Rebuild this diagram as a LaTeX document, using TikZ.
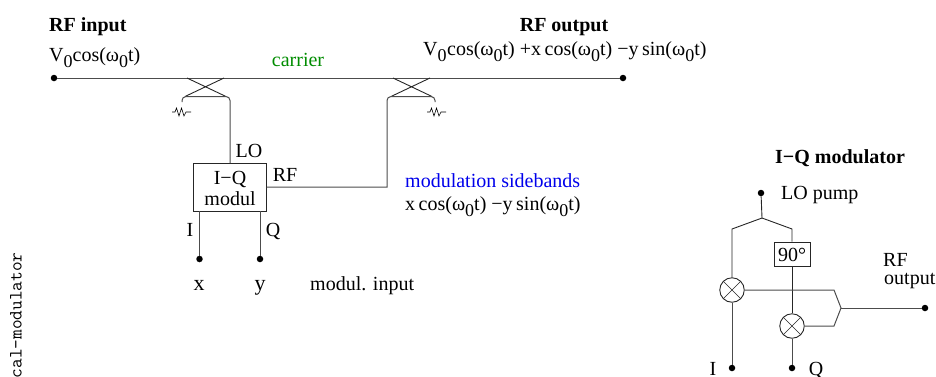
\documentclass[tikz,border=0pt]{standalone}
\usepackage{fontspec}
\setmainfont{Liberation Serif}
\usetikzlibrary{shapes.geometric}
\definecolor{carriergreen}{RGB}{0,140,0}
\definecolor{sideblue}{RGB}{0,0,235}
\newcommand{\lowzero}{\raisebox{-0.32em}{\fontsize{18}{18}\selectfont 0}}
\newcommand{\ww}{ω\lowzero}
\tikzset{
  x=1pt,y=-1pt,
  wire/.style={draw=black!70,line width=1pt},
  thin wire/.style={draw=black!85,line width=0.9pt,line join=round},
  termdot/.style={circle,fill=black,inner sep=0pt,minimum size=6.5pt},
  lbl/.style={inner sep=0pt,anchor=base west,font=\fontsize{20}{24}\selectfont},
  lblc/.style={inner sep=0pt,anchor=base,font=\fontsize{20}{24}\selectfont},
  boldlbl/.style={lblc,font=\fontsize{20}{24}\selectfont\bfseries},
  mixer/.style={circle,draw=black!85,line width=0.9pt,minimum size=24.5pt,inner sep=0pt},
  blockbox/.style={draw=black!85,line width=0.9pt,inner sep=0pt},
}
\begin{document}
\begin{tikzpicture}
\useasboundingbox (0,0) rectangle (936,376);
% left: main path
\node[termdot] (in) at (54,78) {};
\node[termdot] (out) at (623,78) {};
\draw[wire] (in) -- (out);
% couplers
\coordinate (c1a) at (187,78); \coordinate (c1b) at (224,78);
\coordinate (c1c) at (185,96.5); \coordinate (c1d) at (226,96.5);
\coordinate (c2a) at (393,78); \coordinate (c2b) at (430,78);
\coordinate (c2c) at (391,96.5); \coordinate (c2d) at (432,96.5);
\draw[thin wire] (c1a) -- (c1d) (c1b) -- (c1c);
\draw[thin wire] (c2a) -- (c2d) (c2b) -- (c2c);
% box
\node[blockbox,minimum width=73pt,minimum height=48pt] (mod) at (230,187) {};
\node[lblc] (modA) at (230,184) {I−Q};
\node[lblc] (modB) at (230,205) {modul};
% through lines
\coordinate (lotop) at (230,163);
\coordinate (rfout) at (266.5,187);
\draw[wire,rounded corners=4pt] (182,102) -- (182,96.5) -- (230,96.5) -- (lotop);
\draw[wire] (rfout) -- (387,187) [rounded corners=4pt] -- (387,96.5) -- (435,96.5) -- (435,102);
% resistors
\draw[line width=0.6pt] (172,112) -- (175,112) -- (176.5,108) -- (179,116) -- (181.5,108) -- (184,116) -- (186,112) -- (191,112);
\draw[line width=0.6pt] (427,112) -- (430,112) -- (431.5,108) -- (434,116) -- (436.5,108) -- (439,116) -- (441,112) -- (446,112);
% I,Q
\node[termdot] (xd) at (199.5,259) {};
\node[termdot] (yd) at (260,259) {};
\draw[wire] (199.5,211) -- (xd);
\draw[wire] (260,211) -- (yd);
% texts left
\node[boldlbl,anchor=base west] (t1) at (49,31) {RF input};
\node[boldlbl] (t2) at (564,31) {RF output};
\node[lbl] (t3) at (49,61) {V\lowzero cos(\ww t)};
\node[lbl] (t4) at (423,55) {V\lowzero\kern0.5pt cos(\ww t) +x\kern3.5pt cos(\ww t) −y\kern3.5pt sin(\ww t)};
\node[lblc,text=carriergreen] (t5) at (298,66) {carrier};
\node[lblc] (t6) at (249,157) {LO};
\node[lblc] (t7) at (285,181) {RF};
\node[lblc] (t8) at (190,236) {I};
\node[lblc] (t9) at (273,236) {Q};
\node[lblc] (t10) at (199,290) {\fontsize{22}{24}\selectfont x};
\node[lblc] (t11) at (260,290) {\fontsize{22}{24}\selectfont y};
\node[lbl] (t12) at (310,290) {modul. input};
\node[lbl,text=sideblue] (t13) at (405,187) {modulation sidebands};
\node[lbl] (t14) at (405,210) {x\kern3.5pt cos(\ww t) −y\kern3.5pt sin(\ww t)};
\node[inner sep=0pt,anchor=west,rotate=90,font=\ttfamily\fontsize{18.8}{18}\selectfont] (t15) at (16,378.5) {cal-modulator};
% right
\node[boldlbl] (r1) at (840,163) {I−Q modulator};
\node[termdot] (lo) at (761,193) {};
\node[lbl] (r2) at (781,199) {LO pump};
\coordinate (split) at (762,218);
\coordinate (bl) at (732,229);
\coordinate (br) at (792,229);
\node[blockbox,minimum width=36pt,minimum height=24pt] (ph) at (792,254) {};
\node[lblc] (r3) at (792,261) {90°};
\node[mixer] (m1) at (732,290) {};
\node[mixer] (m2) at (792,326) {};
\draw[draw=black!85,line width=0.6pt] (m1.north west) -- (m1.south east) (m1.north east) -- (m1.south west);
\draw[draw=black!85,line width=0.6pt] (m2.north west) -- (m2.south east) (m2.north east) -- (m2.south west);
\node[termdot] (idot) at (732,368) {};
\node[termdot] (qdot) at (792,368) {};
\node[termdot] (rfo) at (925,308) {};
\coordinate (sum) at (841,308);
\draw[thin wire] (lo) -- (split) -- (bl) -- (m1);
\draw[thin wire] (split) -- (br) -- (ph);
\draw[thin wire] (ph) -- (m2);
\draw[wire] (m1) -- (idot);
\draw[wire] (m2) -- (qdot);
\draw[wire] (m1) -- (834,290) -- (sum) -- (834,326) -- (m2);
\draw[wire] (sum) -- (rfo);
\node[lblc] (r4) at (713,375) {I};
\node[lblc] (r5) at (816,375) {Q};
\node[lbl] (r6) at (883,266) {RF};
\node[lbl] (r7) at (884,284) {output};
\end{tikzpicture}
\end{document}
